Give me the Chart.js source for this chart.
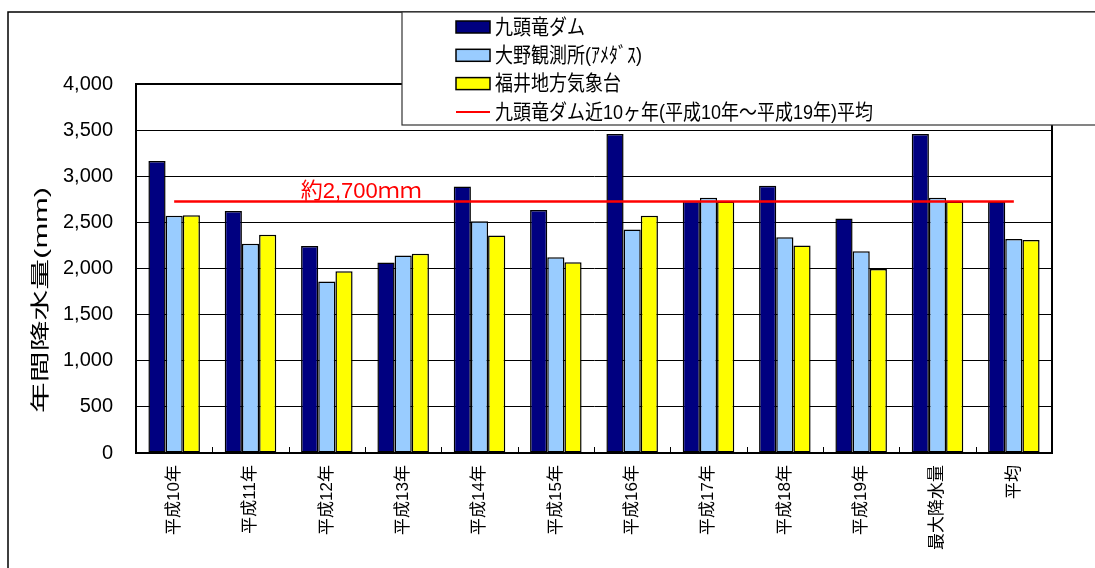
<!DOCTYPE html>
<html>
<head>
<meta charset="utf-8">
<script src="https://cdn.jsdelivr.net/npm/chart.js@4.4.0/dist/chart.umd.min.js"></script>
<style>
  html, body { margin: 0; padding: 0; background: #fff; }
  canvas { display: block; }
</style>
</head>
<body>
<canvas id="rainChart" width="1095" height="568"></canvas>
<script>
const categories = ['平成10年', '平成11年', '平成12年', '平成13年', '平成14年', '平成15年',
  '平成16年', '平成17年', '平成18年', '平成19年', '最大降水量', '平均'];

// annual rainfall (mm)
const kuzuryuDam = [3165, 2623, 2244, 2064, 2890, 2634, 3457, 2735, 2897, 2543, 3457, 2725];
const onoAmedas  = [2572, 2269, 1858, 2140, 2511, 2121, 2424, 2767, 2338, 2186, 2767, 2320];
const fukuiObs   = [2578, 2367, 1970, 2161, 2359, 2067, 2572, 2727, 2248, 1995, 2727, 2309];

// 10-year average of the dam, drawn as a flat line
const damAverage = [2727, 2727, 2727, 2727, 2727, 2727, 2727, 2727, 2727, 2727, 2727, 2727];

const seriesNames = ['九頭竜ダム', '大野観測所(ｱﾒﾀﾞｽ)', '福井地方気象台',
  '九頭竜ダム近10ヶ年(平成10年～平成19年)平均'];
const averageNote = '約2,700ｍｍ';
const yTitle = '年間降水量(mm)';

const NAVY = '#000080';
const SKY = '#99CCFF';
const YELLOW = '#FFFF00';
const RED = '#FF0000';
const FONT = '"Liberation Sans", Arial, "Noto Sans CJK JP", sans-serif';

/**
 * Draws everything Chart.js has no slot for: plot frame, inner ticks,
 * the average note, the stretched axis title, the outer frame and the legend.
 */
const extras = {
  id: 'extras',
  beforeDraw(chart) {
    const ctx = chart.ctx;
    ctx.save();
    ctx.fillStyle = '#fff';
    ctx.fillRect(0, 0, chart.width, chart.height);
    ctx.restore();
  },
  afterDraw(chart) {
    const { ctx, chartArea: a, scales: { x, y } } = chart;
    ctx.save();

    // top and right edge of plot
    ctx.strokeStyle = '#000';
    ctx.lineWidth = 2;
    ctx.beginPath();
    ctx.moveTo(a.left, a.top);
    ctx.lineTo(a.right, a.top);
    ctx.lineTo(a.right, a.bottom);
    ctx.stroke();

    // small inner ticks between categories
    ctx.lineWidth = 1;
    ctx.beginPath();
    for (let i = 0; i < categories.length - 1; i++) {
      const px = Math.round(x.getPixelForValue(i + 0.5)) + 0.5;
      ctx.moveTo(px, a.bottom);
      ctx.lineTo(px, a.bottom - 6);
    }
    ctx.stroke();

    // note above the average line
    ctx.fillStyle = RED;
    ctx.font = '22px ' + FONT;
    ctx.textAlign = 'center';
    ctx.textBaseline = 'alphabetic';
    ctx.fillText(averageNote, x.getPixelForValue(2.45), y.getPixelForValue(damAverage[0]) - 3);

    // y axis title, stretched along its length like the original
    ctx.fillStyle = '#000';
    ctx.font = '19px ' + FONT;
    const w = ctx.measureText(yTitle).width;
    ctx.translate(42, 300);
    ctx.rotate(-Math.PI / 2);
    ctx.scale(226 / w, 1);
    ctx.textAlign = 'center';
    ctx.textBaseline = 'middle';
    ctx.fillText(yTitle, 0, 0);
    ctx.setTransform(1, 0, 0, 1, 0, 0);

    // outer frame
    ctx.strokeStyle = '#000';
    ctx.lineWidth = 1.5;
    ctx.strokeRect(8, 12, chart.width + 50, chart.height + 50);

    // legend box
    ctx.fillStyle = '#fff';
    ctx.fillRect(402, 12, chart.width, 113);
    ctx.strokeStyle = '#333';
    ctx.lineWidth = 1.2;
    ctx.strokeRect(402, 12, chart.width, 113);

    const fills = [NAVY, SKY, YELLOW];
    ctx.font = '21px ' + FONT;
    const squeeze = 378 / ctx.measureText(seriesNames[3]).width;
    ctx.textAlign = 'left';
    ctx.textBaseline = 'middle';
    seriesNames.forEach((name, i) => {
      const cy = 27 + i * 28.3;
      if (i < 3) {
        ctx.fillStyle = fills[i];
        ctx.fillRect(456, cy - 6, 34, 12);
        ctx.strokeStyle = '#000';
        ctx.lineWidth = 1.5;
        ctx.strokeRect(456, cy - 6, 34, 12);
      } else {
        ctx.strokeStyle = RED;
        ctx.lineWidth = 2;
        ctx.beginPath();
        ctx.moveTo(456, cy);
        ctx.lineTo(490, cy);
        ctx.stroke();
      }
      ctx.fillStyle = '#000';
      ctx.save();
      ctx.translate(495, cy + 1);
      ctx.scale(squeeze, 1);
      ctx.fillText(name, 0, 0);
      ctx.restore();
    });

    ctx.restore();
  }
};

const barStyle = {
  borderColor: '#000',
  borderWidth: 1.5,
  borderSkipped: false,
  barPercentage: 1,
  categoryPercentage: 0.675,
  order: 1
};

new Chart(document.getElementById('rainChart').getContext('2d'), {
  type: 'bar',
  data: {
    labels: categories,
    datasets: [
      { label: seriesNames[0], data: kuzuryuDam, backgroundColor: NAVY, ...barStyle },
      { label: seriesNames[1], data: onoAmedas, backgroundColor: SKY, ...barStyle },
      { label: seriesNames[2], data: fukuiObs, backgroundColor: YELLOW, ...barStyle },
      {
        type: 'line',
        label: seriesNames[3],
        data: damAverage,
        borderColor: RED,
        borderWidth: 2.5,
        pointRadius: 0,
        fill: false,
        order: 0
      }
    ]
  },
  options: {
    responsive: false,
    animation: false,
    layout: { padding: { left: 8, top: 84, right: 43, bottom: 0 } },
    plugins: {
      legend: { display: false },
      tooltip: { enabled: false }
    },
    scales: {
      x: {
        grid: { display: false, drawTicks: false },
        border: { color: '#000', width: 2 },
        ticks: {
          color: '#000',
          font: { family: FONT, size: 17 },
          minRotation: 90,
          maxRotation: 90,
          autoSkip: false,
          padding: 12
        },
        afterFit(scale) { scale.height = 115; }
      },
      y: {
        min: 0,
        max: 4000,
        grid: { color: '#000', lineWidth: 1, drawTicks: false },
        border: { color: '#000', width: 2 },
        ticks: {
          stepSize: 500,
          color: '#000',
          font: { family: FONT, size: 20 },
          padding: 23,
          callback: v => v.toLocaleString('en-US')
        },
        afterFit(scale) { scale.width = 128; }
      }
    }
  },
  plugins: [extras]
});
</script>
</body>
</html>
